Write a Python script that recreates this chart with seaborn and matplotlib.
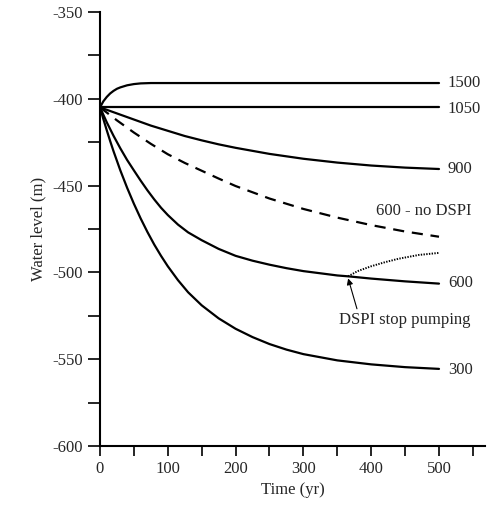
import matplotlib
matplotlib.use("Agg")
import matplotlib.pyplot as plt
import seaborn as sns
from matplotlib.ticker import MultipleLocator

sns.set_style("ticks")
plt.rcParams['font.family'] = ['Liberation Serif', 'DejaVu Serif']
plt.rcParams['axes.unicode_minus'] = False

# ---- data ----
t_1500 = [0, 5, 10, 15, 20, 25, 30, 40, 50, 60, 75, 100, 200, 300, 400, 500]
v_1500 = [-405, -401.5, -399, -397, -395.5, -394.3, -393.5, -392.3, -391.6, -391.2, -391, -391,
          -391, -391, -391, -391]

t_1050 = [0, 100, 200, 300, 400, 500]
v_1050 = [-405, -405, -405, -405, -405, -405]

t_900 = [0, 25, 50, 75, 100, 125, 150, 175, 200, 250, 300, 350, 400, 450, 500]
v_900 = [-405, -408.5, -412, -415.5, -418.5, -421.5, -424, -426.3, -428.3, -431.8, -434.6,
         -436.8, -438.5, -439.7, -440.5]

t_600nd = [0, 25, 50, 75, 100, 125, 150, 175, 200, 250, 300, 350, 400, 450, 500]
v_600nd = [-405, -412.5, -419.5, -426, -432, -437, -441.5, -446, -450.3, -457.5, -463.5,
           -468.5, -472.8, -476.5, -479.5]

t_600 = [0, 10, 20, 30, 40, 50, 60, 70, 80, 90, 100, 115, 130, 150, 175, 200, 225, 250, 275,
         300, 350, 366, 400, 450, 500]
v_600 = [-405, -413.6, -421.4, -428.6, -435.3, -441.3, -447.2, -452.8, -458, -462.8, -467,
         -472.5, -477, -481.5, -486.5, -490.5, -493.3, -495.6, -497.6, -499.3, -501.8, -502.3,
         -503.6, -505.2, -506.5]

t_stop = [366, 380, 400, 420, 440, 470, 500]
v_stop = [-502.3, -499.3, -496.5, -494.2, -492.2, -490, -488.8]

t_300 = [0, 5, 10, 15, 20, 30, 40, 50, 60, 70, 80, 90, 100, 115, 130, 150, 175, 200, 225, 250,
         275, 300, 350, 400, 450, 500]
v_300 = [-405, -411.8, -418.2, -424.4, -430.3, -441.3, -451.3, -460.5, -469, -476.8, -484,
         -490.5, -496.5, -504.5, -511.5, -519, -526.5, -532.5, -537.3, -541.3, -544.5, -547.1,
         -550.7, -553, -554.6, -555.6]

fig, ax = plt.subplots(figsize=(4.95, 5.15), dpi=100)
fig.subplots_adjust(left=0.202, right=0.98, bottom=0.134, top=0.977)

lw = 1.6
for t, v in [(t_1500, v_1500), (t_1050, v_1050), (t_900, v_900), (t_600, v_600), (t_300, v_300)]:
    sns.lineplot(x=t, y=v, ax=ax, color='black', lw=lw, sort=False, estimator=None)
sns.lineplot(x=t_600nd, y=v_600nd, ax=ax, color='black', lw=lw, sort=False, estimator=None,
             linestyle=(0, (5, 3.5)))
sns.lineplot(x=t_stop, y=v_stop, ax=ax, color='black', lw=1.4, sort=False, estimator=None,
             linestyle=(0, (0.7, 0.7)))

fs = 12
ax.text(513, -391, '1500', fontsize=fs, va='center', ha='left')
ax.text(513, -406, '1050', fontsize=fs, va='center', ha='left')
ax.text(513, -440.5, '900', fontsize=fs, va='center', ha='left')
ax.text(478, -464.5, '600 - no DSPI', fontsize=fs, va='center', ha='center')
ax.text(513, -506, '600', fontsize=fs, va='center', ha='left')
ax.text(513, -556, '300', fontsize=fs, va='center', ha='left')
ax.text(450, -527.5, 'DSPI stop pumping', fontsize=fs, ha='center', va='center')
ax.annotate('', xy=(366, -503.5), xytext=(379, -521),
            arrowprops=dict(arrowstyle='-|>', color='black', lw=0.8,
                            shrinkA=0, shrinkB=0, mutation_scale=9))

ax.set_xlim(0, 568)
ax.set_ylim(-600, -350)
ax.xaxis.set_major_locator(MultipleLocator(100))
ax.xaxis.set_minor_locator(MultipleLocator(50))
ax.yaxis.set_major_locator(MultipleLocator(50))
ax.yaxis.set_minor_locator(MultipleLocator(25))
ax.tick_params(which='both', direction='out', length=7, width=1.2, color='black', labelsize=fs)
ax.tick_params(axis='y', which='both', length=9)
for s in ['top', 'right']:
    ax.spines[s].set_visible(False)
for s in ['left', 'bottom']:
    ax.spines[s].set_linewidth(1.5)
    ax.spines[s].set_color('black')

ax.set_xlabel('Time (yr)', fontsize=fs, labelpad=4)
ax.set_ylabel('Water level (m)', fontsize=fs, labelpad=4)

fig.savefig('out.png', dpi=100)
